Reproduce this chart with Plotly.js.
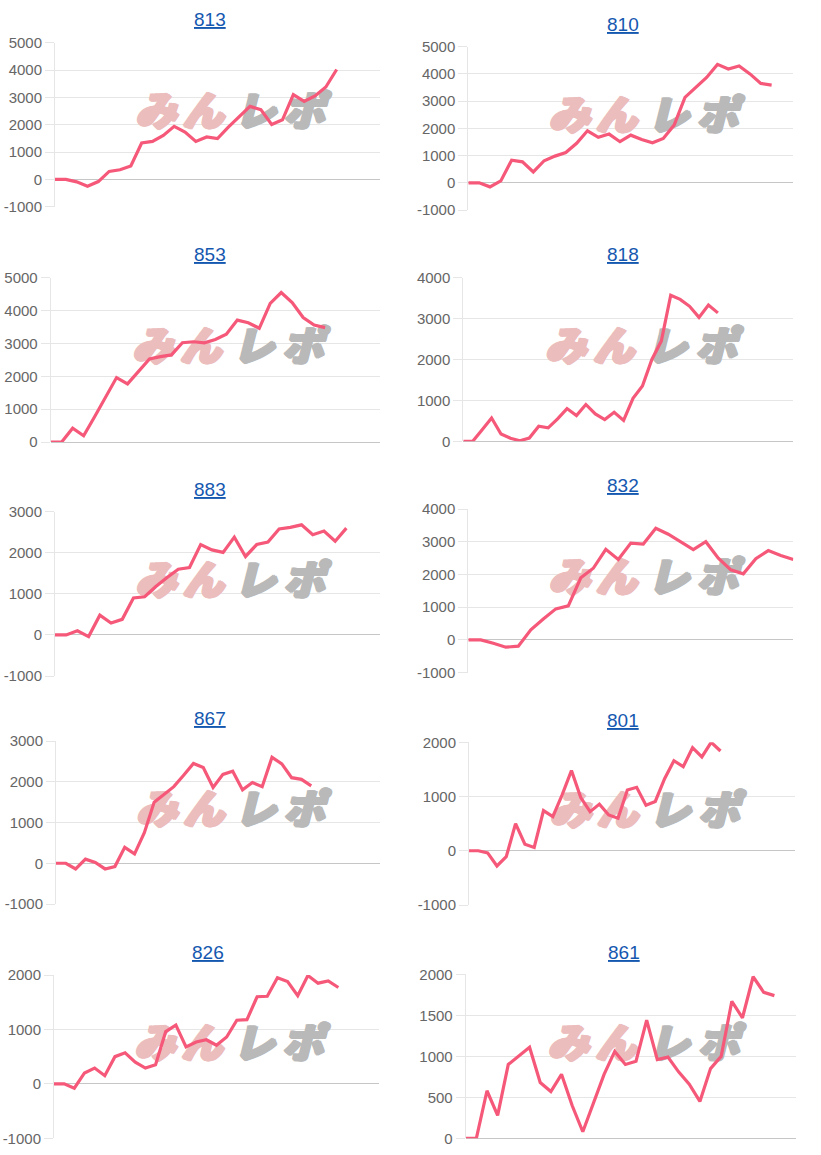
<!DOCTYPE html>
<html>
<head>
<meta charset="utf-8">
<script src="https://cdn.plot.ly/plotly-3.0.1.min.js"></script>
<style>html,body{margin:0;padding:0;background:#fff;}#chart{width:821px;height:1155px;}</style>
</head>
<body>
<div id="chart"></div>
<script>
// ---- data ----
const machines = ["813", "810", "853", "818", "883", "832", "867", "801", "826", "861"];

const s813 = [0,0,-90,-250,-80,290,350,490,1330,1390,1610,1940,1730,1390,1550,1490,1910,2300,2670,2550,2010,2180,3100,2850,3050,3380,4020];
const s810 = [0,0,-150,70,830,770,400,810,980,1110,1450,1910,1670,1790,1510,1750,1590,1470,1630,2120,3140,3500,3870,4350,4180,4290,4000,3650,3590];
const s853 = [0,0,420,190,770,1350,1960,1770,2150,2530,2600,2650,3020,3050,3020,3120,3280,3710,3630,3460,4220,4550,4240,3790,3560,3480];
const s818 = [0,0,280,570,180,75,15,80,370,330,550,800,630,900,670,530,710,510,1050,1350,2000,2450,3570,3470,3300,3030,3330,3140];
const s883 = [0,0,100,-40,480,290,380,900,930,1180,1400,1600,1640,2200,2070,2010,2380,1910,2200,2260,2580,2620,2680,2440,2530,2280,2600];
const s832 = [0,0,-100,-220,-190,310,640,950,1040,1900,2190,2770,2460,2960,2930,3410,3230,3000,2760,3000,2500,2140,2020,2480,2730,2580,2460];
const s867 = [0,0,-140,100,20,-140,-80,390,230,750,1500,1680,1880,2160,2450,2350,1860,2180,2260,1800,1980,1880,2600,2440,2100,2060,1900];
const s801 = [0,0,-40,-280,-110,500,120,60,740,630,1030,1480,980,720,860,660,600,1120,1170,840,910,1330,1660,1550,1900,1730,2000,1840];
const s826 = [0,0,-80,200,290,150,500,570,400,290,350,960,1080,680,770,810,710,860,1170,1180,1600,1610,1950,1880,1620,1990,1850,1890,1770];
const s861 = [0,0,580,280,900,1000,1110,680,570,780,400,80,430,780,1060,900,940,1440,960,990,810,660,450,850,1000,1670,1470,1970,1780,1740];

const series = [s813, s810, s853, s818, s883, s832, s867, s801, s826, s861];
// number of x-label slots on each chart's category axis
const slots = [31, 31, 31, 36, 30, 27, 34, 36, 33, 32];
// y-axis ranges and tick step
const yMin = [-1000, -1000, 0, 0, -1000, -1000, -1000, -1000, -1000, 0];
const yMax = [5000, 5000, 5000, 4000, 3000, 4000, 3000, 2000, 2000, 2000];
const yStep = [1000, 1000, 1000, 1000, 1000, 1000, 1000, 1000, 1000, 500];

// watermark glyphs
const wmPink = ["み", "ん"];
const wmGray = ["レ", "ポ"];

// ---- layout geometry (pixels) ----
const W = 821, H = 1155;
const geom = [
  {l: 55,    r: 380,   t: 42.7,  b: 206.7,  tx: 210, ty: 20},
  {l: 468.3, r: 793.3, t: 46.7,  b: 210,    tx: 623, ty: 24},
  {l: 50.7,  r: 380,   t: 277.7, b: 442,    tx: 210, ty: 255},
  {l: 463.3, r: 793.3, t: 277.7, b: 441.3,  tx: 623, ty: 255},
  {l: 55,    r: 380,   t: 511.7, b: 676,    tx: 210, ty: 489},
  {l: 468.3, r: 793.3, t: 509,   b: 672.7,  tx: 623, ty: 486},
  {l: 56,    r: 380,   t: 741,   b: 904,    tx: 210, ty: 718},
  {l: 469,   r: 795,   t: 742.3, b: 905,    tx: 623, ty: 720},
  {l: 54,    r: 379,   t: 975,   b: 1138.3, tx: 208, ty: 952},
  {l: 465.7, r: 795.7, t: 974.3, b: 1138.3, tx: 624, ty: 952}
];
const pinkFx = [0.31, 0.455];
const grayFx = [0.615, 0.765];
const wmFy = 0.555;
const pinkCol = "#ecbdbd", grayCol = "#b9b9b9";
function fatShadow(c) {
  return ["1px 0 0 " + c, "-1px 0 0 " + c, "0 1px 0 " + c, "0 -1px 0 " + c,
          "1.5px 1px 0 " + c, "-1.5px -1px 0 " + c, "2px 0 0 " + c].join(", ");
}

const traces = [];
const layout = {
  width: W, height: H,
  margin: {l: 0, r: 0, t: 0, b: 0},
  paper_bgcolor: "#ffffff",
  plot_bgcolor: "rgba(0,0,0,0)",
  showlegend: false,
  annotations: []
};

series.forEach((vals, i) => {
  const k = i === 0 ? "" : String(i + 1);
  const g = geom[i];
  const n = slots[i];
  const xs = vals.map((_, j) => j);
  const wy = yMin[i] + wmFy * (yMax[i] - yMin[i]);

  // watermark (drawn first so the line sits above it)
  [[wmPink, pinkFx, pinkCol], [wmGray, grayFx, grayCol]].forEach(([gl, fx, col]) => {
    traces.push({
      type: "scatter", mode: "text",
      x: fx.map(f => f * (n - 1)),
      y: fx.map(() => wy),
      text: gl.map(c => "<i>" + c + "</i>"),
      textposition: "middle center",
      textfont: {family: "Noto Sans CJK JP Black, Noto Sans CJK JP", size: 41, color: col,
                 weight: 900, shadow: fatShadow(col)},
      hoverinfo: "skip",
      xaxis: "x" + k, yaxis: "y" + k
    });
  });

  traces.push({
    type: "scatter", mode: "lines",
    x: xs, y: vals,
    name: machines[i],
    line: {color: "rgb(245,88,120)", width: 3.2, shape: "linear"},
    hoverinfo: "x+y",
    xaxis: "x" + k, yaxis: "y" + k
  });

  const tv = [];
  for (let v = yMin[i]; v <= yMax[i]; v += yStep[i]) tv.push(v);

  layout["xaxis" + k] = {
    domain: [g.l / W, g.r / W],
    range: [0, n - 1],
    anchor: "y" + k,
    showgrid: false, zeroline: false, showline: false,
    showticklabels: false, ticks: "",
    fixedrange: true
  };
  layout["yaxis" + k] = {
    domain: [1 - g.b / H, 1 - g.t / H],
    range: [yMin[i], yMax[i]],
    anchor: "x" + k,
    tickmode: "array", tickvals: tv, ticktext: tv.map(v => String(v)),
    showgrid: true, gridcolor: "#e6e6e6", gridwidth: 1,
    zeroline: true, zerolinecolor: "#c6c6c6", zerolinewidth: 1,
    showline: true, linecolor: "#e6e6e6", linewidth: 1,
    ticks: "outside", ticklen: 9, tickcolor: "#e6e6e6", tickwidth: 1,
    tickfont: {family: "Liberation Sans, Arial, sans-serif", size: 15, color: "#666666"},
    fixedrange: true
  };

  layout.annotations.push({
    xref: "paper", yref: "paper",
    x: g.tx / W, y: 1 - g.ty / H,
    xanchor: "center", yanchor: "middle",
    text: "<u>" + machines[i] + "</u>",
    showarrow: false,
    font: {family: "Liberation Sans, Arial, sans-serif", size: 19, color: "#1558b0"}
  });
});

Plotly.newPlot("chart", traces, layout, {displayModeBar: false, staticPlot: true});
</script>
</body>
</html>
